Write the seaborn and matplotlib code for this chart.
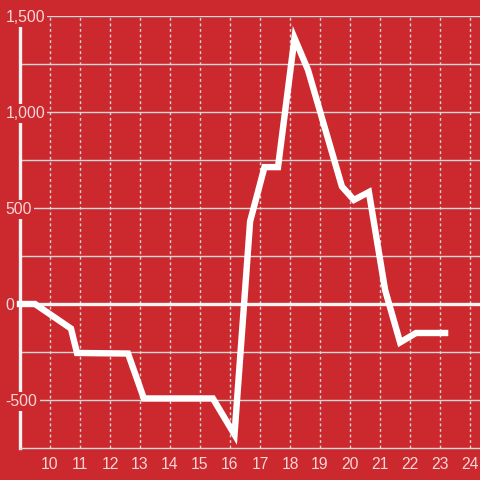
import matplotlib
matplotlib.use("Agg")
import matplotlib.pyplot as plt
import seaborn as sns
import pandas as pd

hours = [9.0, 9.5, 10.7, 10.9, 12.6, 13.13, 15.43, 16.15, 16.67, 17.15, 17.6,
         18.15, 18.6, 19.1, 19.73, 20.13, 20.63, 21.17, 21.67, 22.2, 23.17]
values = [0, 0, -128, -255, -258, -492, -492, -680, 430, 713, 713,
          1385, 1219, 950, 612, 542, 583, 73, -200, -151, -151]
y_ticks = [-500, 0, 500, 1000, 1500]
y_labels = ["-500", "0", "500", "1,000", "1,500"]
y_minor = [-250, 250, 750, 1250]
x_ticks = list(range(10, 25))

RED = "#cc292e"
TXT = "#f6d6d7"
GRID = "#d8d8d8"

sns.set_style("white")
plt.rcParams["font.family"] = ["Liberation Sans", "DejaVu Sans"]

fig = plt.figure(figsize=(4.8, 4.8), dpi=100, facecolor=RED)
ax = fig.add_axes([20/480, 32/480, 460/480, 432/480])
ax.set_facecolor(RED)

df = pd.DataFrame({"hour": hours, "value": values})

ax.set_xlim(9.0, 9.0 + 460/30)
ax.set_ylim(-750, 1500)

# horizontal grid
for v in y_ticks + y_minor:
    if v == 0:
        continue
    ax.axhline(v, color=GRID, lw=1.0, zorder=1)
# vertical dashed grid
ax.vlines(x_ticks, -750, 1500, colors=GRID, linestyles=(0, (2, 2)), lw=1.0, zorder=1)
# zero line
ax.axhline(0, xmin=-0.01, color="#f4f4f4", lw=2.4, zorder=1.5, clip_on=False)

sns.lineplot(data=df, x="hour", y="value", ax=ax, color="white", lw=4.6,
             sort=False, estimator=None, zorder=3)
for ln in ax.lines[-1:]:
    ln.set_clip_on(False)
    ln.set_solid_joinstyle("miter")
    ln.set_solid_capstyle("projecting")

for s in ["top", "right"]:
    ax.spines[s].set_visible(False)
ax.spines["left"].set_color("#f2f2f2")
ax.spines["left"].set_linewidth(2.4)
ax.spines["left"].set_zorder(1.6)
ax.spines["bottom"].set_color(GRID)
ax.spines["bottom"].set_linewidth(1.0)

ax.set_axisbelow(False)
ax.xaxis.set_zorder(2.5)
ax.yaxis.set_zorder(2.5)

ax.set_xticks(x_ticks)
ax.set_xticklabels([str(t) for t in x_ticks])
ax.set_yticks(y_ticks)
ax.set_yticklabels(y_labels)
ax.tick_params(axis="x", length=0, pad=6.5, labelsize=11.3, labelcolor=TXT)
ax.tick_params(axis="y", length=0, pad=10.3, labelsize=11.3, labelcolor=TXT)
for lbl in ax.get_yticklabels():
    lbl.set_horizontalalignment("left")
    lbl.set_bbox(dict(facecolor=RED, edgecolor="none", pad=1.5))
ax.set_xlabel("")
ax.set_ylabel("")

fig.savefig("out.png", dpi=100, facecolor=RED)
